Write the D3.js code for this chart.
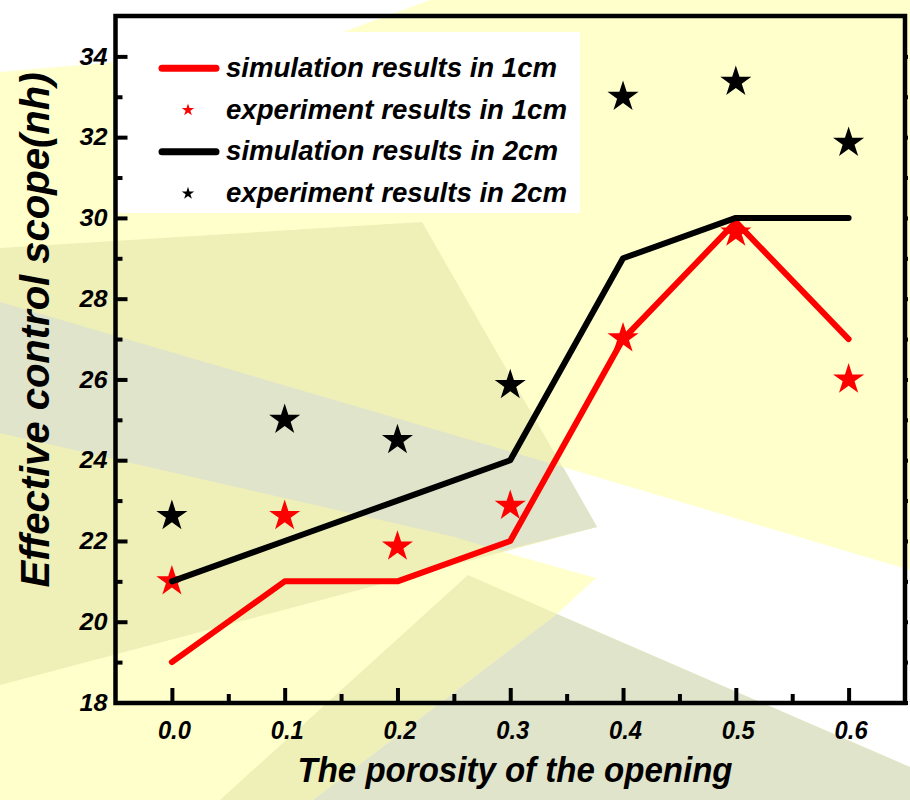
<!DOCTYPE html>
<html>
<head>
<meta charset="utf-8">
<script src="https://cdn.jsdelivr.net/npm/d3@7"></script>
<style>
  body { margin: 0; background: #fff; }
  svg { display: block; }
  text { font-family: "Liberation Sans", Arial, sans-serif; font-weight: bold; font-style: italic; fill: #000; }
</style>
</head>
<body>
<div id="chart"></div>
<script>
// data
var porosity = [0.0, 0.1, 0.2, 0.3, 0.4, 0.5, 0.6];
var sim1cm = [19, 21, 21, 22, 27, 29.9, 27];
var exp1cm = [21.0, 22.62, 21.86, 22.87, 27.02, 29.64, 26.0];
var sim2cm = [21, 22, 23, 24, 29, 30, 30];
var exp2cm = [22.62, 25.0, 24.5, 25.86, 33.0, 33.37, 31.86];

var xTickValues = [0.0, 0.1, 0.2, 0.3, 0.4, 0.5, 0.6];
var xMinorValues = [0.05, 0.15, 0.25, 0.35, 0.45, 0.55];
var yTickValues = [18, 20, 22, 24, 26, 28, 30, 32, 34];
var yMinorValues = [19, 21, 23, 25, 27, 29, 31, 33];

var legendLabels = ["simulation results in 1cm", "experiment results in 1cm",
                    "simulation results in 2cm", "experiment results in 2cm"];
var legendWidths = [331, 341, 332, 341];

// decorative background shapes (pixel space)
var bgShapes = [
  {fill: "#ffffff", pts: [[0,0],[430,0],[343,32],[127,32],[127,213],[117,213],[117,62],[0,72]]},
  {fill: "#ffffff", pts: [[563,467],[910,570],[910,767],[557,614],[596,578],[500,551],[597,527]]},
  {fill: "#efefb8", pts: [[0,248],[422,222],[597,527],[0,685]]},
  {fill: "#e0e4ca", pts: [[0,302],[563,467],[597,527],[500,551],[455,537],[0,433]]},
  {fill: "#efefb8", pts: [[468,575],[557,614],[313,800],[220,800]]},
  {fill: "#e0e4ca", pts: [[557,614],[910,767],[910,800],[313,800]]}
];

var svgWidth = 910, svgHeight = 800;
var plotLeft = 115.5, plotRight = 905, plotTop = 16, plotBottom = 703;

var svg = d3.select("#chart").append("svg")
    .attr("width", svgWidth)
    .attr("height", svgHeight);

svg.append("rect").attr("width", svgWidth).attr("height", svgHeight).attr("fill", "#ffffcc");
svg.selectAll("polygon.bg")
    .data(bgShapes)
    .enter()
    .append("polygon")
    .attr("class", "bg")
    .attr("points", d => d.pts.map(p => p.join(",")).join(" "))
    .attr("fill", d => d.fill);

// legend box
svg.append("rect")
    .attr("x", 127).attr("y", 32).attr("width", 453).attr("height", 181)
    .attr("fill", "#ffffff");

var xScale = d3.scaleLinear().domain([-0.05, 0.65]).range([plotLeft, plotRight]);
var yScale = d3.scaleLinear().domain([18, 35]).range([702.5, plotTop]);

var line = d3.line()
    .x((d, i) => xScale(porosity[i]))
    .y(d => yScale(d));

var starBig = d3.symbol().type(d3.symbolStar).size(300);
var starSmall = d3.symbol().type(d3.symbolStar).size(48);

function drawSeries(simVals, expVals, color) {
  svg.append("path")
      .datum(simVals)
      .attr("d", line)
      .attr("fill", "none")
      .attr("stroke", color)
      .attr("stroke-width", 6)
      .attr("stroke-linejoin", "round")
      .attr("stroke-linecap", "round");
  svg.append("g").selectAll("path")
      .data(expVals)
      .enter()
      .append("path")
      .attr("d", starBig)
      .attr("transform", (d, i) => `translate(${xScale(porosity[i])},${yScale(d)})`)
      .attr("fill", color);
}
drawSeries(sim1cm, exp1cm, "#ff0000");
drawSeries(sim2cm, exp2cm, "#000000");

// axes
var xAxis = d3.axisBottom(xScale).tickValues(xTickValues).tickSize(-15).tickPadding(18)
    .tickFormat(d3.format(".1f"));
var xAxisMinor = d3.axisBottom(xScale).tickValues(xMinorValues).tickSize(-9).tickFormat("");
var yAxis = d3.axisLeft(yScale).tickValues(yTickValues).tickSize(-12).tickPadding(20)
    .tickFormat(d3.format("d"));
var yAxisMinor = d3.axisLeft(yScale).tickValues(yMinorValues).tickSize(-7).tickFormat("");

function styleAxis(g) {
  g.attr("font-family", null).attr("font-size", null);
  g.select(".domain").remove();
  g.selectAll(".tick line").attr("stroke", "#000").attr("stroke-width", 4);
}

svg.append("g").attr("transform", `translate(0,${plotBottom})`).call(xAxisMinor).call(styleAxis);
var gx = svg.append("g").attr("transform", `translate(0,${plotBottom})`).call(xAxis).call(styleAxis);
gx.selectAll(".tick text")
    .attr("font-size", 25)
    .attr("dx", 2)
    .attr("textLength", 33)
    .attr("lengthAdjust", "spacingAndGlyphs");

svg.append("g").attr("transform", `translate(${plotLeft},0)`).call(yAxisMinor).call(styleAxis);
var gy = svg.append("g").attr("transform", `translate(${plotLeft},0)`).call(yAxis).call(styleAxis);
gy.selectAll(".tick text")
    .attr("font-size", 24)
    .attr("x", -8)
    .attr("textLength", 28)
    .attr("lengthAdjust", "spacingAndGlyphs");
gy.selectAll(".tick line").filter(d => d === 18).remove();

// small marks on the right frame
var yAxisRight = d3.axisRight(yScale).tickValues(d3.merge([yTickValues, yMinorValues])).tickSize(3).tickFormat("");
svg.append("g").attr("transform", `translate(${plotRight},0)`).call(yAxisRight).call(styleAxis);

// frame
svg.append("path")
    .attr("d", `M${plotLeft},${plotTop}H${plotRight}V${plotBottom}H${plotLeft}Z`)
    .attr("fill", "none")
    .attr("stroke", "#000")
    .attr("stroke-width", 4.5)
    .attr("stroke-linejoin", "miter");

// legend
var legendRows = [
  {kind: "line", color: "#ff0000"},
  {kind: "star", color: "#ff0000"},
  {kind: "line", color: "#000000"},
  {kind: "star", color: "#000000"}
];
var legend = svg.append("g");
legendRows.forEach(function(r, i) {
  var y = 68.3 + i * 41.7;
  if (r.kind === "line") {
    legend.append("line")
        .attr("x1", 162).attr("x2", 216).attr("y1", y).attr("y2", y)
        .attr("stroke", r.color).attr("stroke-width", 7).attr("stroke-linecap", "round");
  } else {
    legend.append("path")
        .attr("d", starSmall)
        .attr("transform", `translate(188,${y})`)
        .attr("fill", r.color);
  }
  legend.append("text")
      .attr("x", 226).attr("y", y + 8.5)
      .attr("font-size", 27)
      .attr("textLength", legendWidths[i])
      .attr("lengthAdjust", "spacingAndGlyphs")
      .text(legendLabels[i]);
});

// axis titles
svg.append("text")
    .attr("x", 515).attr("y", 782)
    .attr("text-anchor", "middle")
    .attr("font-size", 35)
    .attr("textLength", 435)
    .attr("lengthAdjust", "spacingAndGlyphs")
    .text("The porosity of the opening");

svg.append("text")
    .attr("transform", "translate(49,330) rotate(-90)")
    .attr("text-anchor", "middle")
    .attr("font-size", 40)
    .text("Effective control scope(nh)");
</script>
</body>
</html>
